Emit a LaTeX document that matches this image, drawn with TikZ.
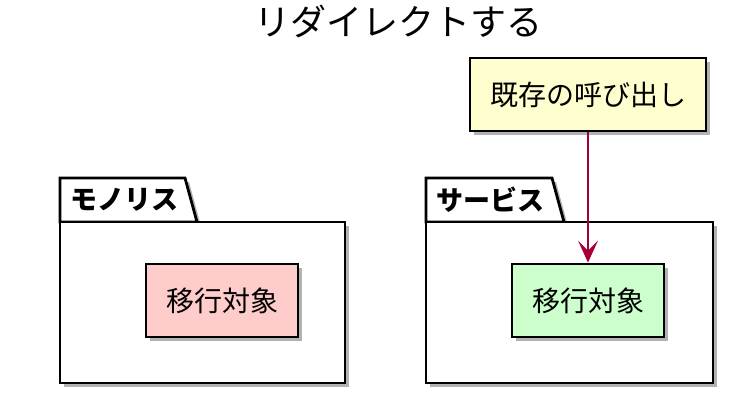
\documentclass[tikz,border=0pt]{standalone}
\usepackage{fontspec}
\setmainfont{Noto Sans CJK JP}
\usetikzlibrary{arrows.meta,shadows}
\definecolor{umlred}{HTML}{A80036}
\definecolor{notepink}{HTML}{FFCCCC}
\definecolor{notegreen}{HTML}{CCFFCC}
\definecolor{noteyellow}{HTML}{FEFECE}
\tikzset{
  shade box/.style={drop shadow={shadow xshift=4pt,shadow yshift=-4pt,fill=black,opacity=0.3}},
  comp/.style={draw, line width=2.8pt, shade box, minimum width=152pt, minimum height=73pt, font=\fontsize{28}{32}\selectfont},
  pkgline/.style={draw, line width=2.8pt, fill=white, shade box},
  pkgname/.style={anchor=west, inner sep=0pt, font=\fontsize{27}{30}\selectfont\bfseries}
}
\begin{document}
\begin{tikzpicture}[x=1pt,y=-1pt]
    \useasboundingbox (0,0) rectangle (754,406);
    \node (title) at (398,21) {\fontsize{36}{40}\selectfont リダイレクトする};

    \draw[pkgline] (60,222) -- (60,178) -- (185,178) -- (197,222) -- cycle;
    \node[pkgline, minimum width=285pt, minimum height=161pt] (monolith) at (202.5,302.5) {};
    \node[pkgname] (monolithname) at (70,200) {モノリス};

    \draw[pkgline] (426,222) -- (426,178) -- (552,178) -- (564,222) -- cycle;
    \node[pkgline, minimum width=287pt, minimum height=161pt] (service) at (569.5,302.5) {};
    \node[pkgname] (servicename) at (436,200) {サービス};

    \node[comp, fill=notepink] (oldtarget) at (222,300.5) {移行対象};
    \node[comp, fill=notegreen] (newtarget) at (588,300.5) {移行対象};
    \node[comp, fill=noteyellow, minimum width=236pt] (caller) at (588,94.5) {既存の呼び出し};

    \draw[umlred, line width=1.5pt, -{Stealth[length=22pt,width=20pt,inset=10pt]}] (caller) -- (newtarget);
\end{tikzpicture}
\end{document}
